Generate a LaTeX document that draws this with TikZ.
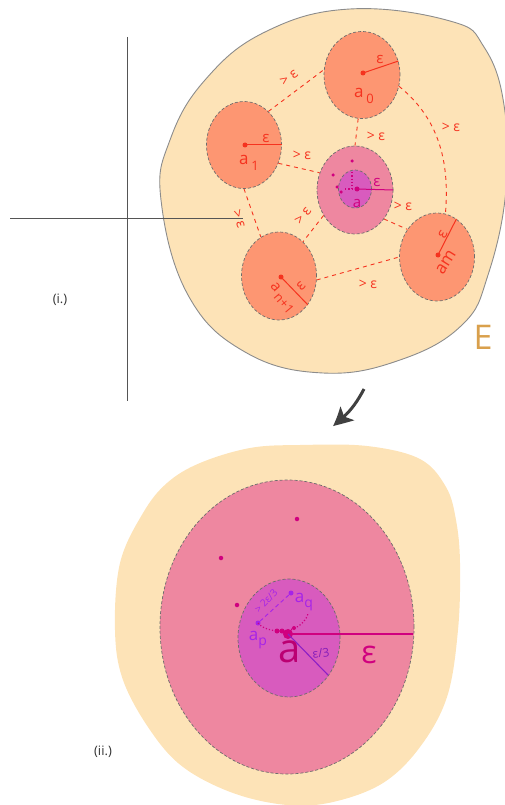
\documentclass[tikz,border=0pt]{standalone}
\usepackage{fontspec}
\setmainfont{Open Sans}
\usetikzlibrary{arrows.meta,shapes.geometric,bending}
\definecolor{cream}{HTML}{FDE3B7}
\definecolor{orangec}{HTML}{FD9672}
\definecolor{pinko}{HTML}{EE87A0}
\definecolor{magin}{HTML}{D85BBE}
\definecolor{redl}{HTML}{F5331F}
\definecolor{magl}{HTML}{D0007F}
\definecolor{purp}{HTML}{A524E8}
\definecolor{goldE}{HTML}{D9A04C}
\definecolor{axisg}{HTML}{555555}
\tikzset{
  disc/.style={ellipse,inner sep=0pt,draw=gray!85!black,dash pattern=on 3pt off 2pt,line width=0.7pt},
  orb/.style={disc,fill=orangec},
  pinkb/.style={disc,fill=pinko},
  magb/.style={disc,fill=magin},
  conn/.style={draw=redl,dash pattern=on 4pt off 4pt,line width=0.9pt},
  gt/.style={text=redl,font=\fontsize{14}{14}\selectfont,inner sep=1pt},
  lab/.style={text=redl,font=\fontsize{17}{17}\selectfont,inner sep=0pt},
  eps/.style={text=redl,font=\fontsize{15}{15}\selectfont,inner sep=0pt},
  pt/.style={circle,fill=#1,inner sep=0pt,minimum size=5pt},
  mdot/.style={circle,fill=magl,inner sep=0pt,minimum size=3.5pt},
}
\newcommand{\subsc}[1]{\,\raisebox{-0.7ex}{\fontsize{13}{13}\selectfont #1}}
\begin{document}
\begin{tikzpicture}[x=1pt,y=-1pt]
\useasboundingbox (0,0) rectangle (504,805);
% ---------- top blob E
\draw[fill=cream,draw=gray!90,line width=0.9pt] plot[smooth cycle,tension=0.7] coordinates
 {(161,200) (170,140) (205,80) (265,32) (350,9) (450,21) (484,47) (504,105) (506,190) (488,275) (462,325) (400,360) (323,373) (245,352) (188,295)};
% axes
\coordinate (vt) at (127,37); \coordinate (vb) at (127,401);
\coordinate (hl) at (10,218); \coordinate (hr) at (243,218);
\draw[axisg,line width=1pt] (vt) -- (vb);
\draw[axisg,line width=0.8pt] (hl) -- (hr);
% ---------- discs
\node[orb,minimum width=76pt,minimum height=87pt] (c0) at (362,75) {};
\node[orb,minimum width=75pt,minimum height=87pt] (c1) at (244,145) {};
\node[pinkb,minimum width=76pt,minimum height=88pt] (cc) at (355,190) {};
\node[magb,minimum width=33pt,minimum height=38pt] (ci) at (355,189) {};
\node[orb,minimum width=75pt,minimum height=88pt] (cm) at (437,257) {};
\node[orb,minimum width=75pt,minimum height=88pt] (cn) at (279,276) {};
% ---------- connectors
\draw[conn] (c1.54) -- (c0.172);
\draw[conn] (c0.265) -- (cc.90);
\draw[conn] (c0.343) .. controls (438,118) and (450,160) .. (cm.79);
\draw[conn] (c1.332) -- (cc.154);
\draw[conn] (c1.270) -- (cn.115);
\draw[conn] (cc.219) -- (cn.55);
\draw[conn] (cc.315) -- (cm.137);
\draw[conn] (cn.354) -- (cm.180);
\node[gt,rotate=37] (g1) at (289,78) {> ε};
\node[gt] (g2) at (376,136) {> ε};
\node[gt] (g3) at (451,127) {> ε};
\node[gt] (g4) at (302,155) {> ε};
\node[gt,rotate=-72] (g5) at (239,219) {> ε};
\node[gt,rotate=52] (g6) at (303,216) {> ε};
\node[gt] (g7) at (403,206) {> ε};
\node[gt] (g8) at (368,284) {> ε};
% ---------- centres and radii
\node[pt=redl] (p0) at (363,73) {};
\draw[redl,line width=1pt] (p0.center) -- (c0.21);
\node[eps] at (380,59) {ε};
\node[lab] at (364,96) {a\subsc{0}};
\node[pt=redl] (p1) at (245,145) {};
\draw[redl,line width=1pt] (p1.center) -- (c1.0);
\node[eps] at (266,138) {ε};
\node[lab] at (249,163) {a\subsc{1}};
\node[pt=redl] (pm) at (438,255) {};
\draw[redl,line width=1pt] (pm.center) -- (cm.63);
\node[eps,rotate=63] at (443,235) {ε};
\node[lab,rotate=58] at (446,262) {am};
\node[pt=redl] (pn) at (281,277) {};
\draw[redl,line width=1pt] (pn.center) -- (cn.315);
\node[eps,rotate=45] at (301,286) {ε};
\node[lab,rotate=-50,font=\fontsize{15}{15}\selectfont] at (282,298) {a\,\raisebox{-0.6ex}{\fontsize{13}{13}\selectfont n+1}};
% central point cluster
\node[pt=magl] (pc) at (357,189) {};
\draw[magl,line width=1pt] (pc.center) -- (cc.0);
\node[eps,text=magl] at (377,182) {ε};
\node[lab,text=magl,font=\fontsize{15}{15}\selectfont] at (357,203) {a};
\coordinate (dv1) at (352,172); \coordinate (dh1) at (345,189);
\draw[magl,line width=1.3pt,dotted] (dv1) -- (352,189);
\draw[magl,line width=1.3pt,dotted] (dh1) -- (pc.center);
\node[mdot] at (352,161) {};
\node[mdot] at (333,175) {};
\node[mdot] at (337,187) {};
\node[mdot] at (341,192) {};
% E and labels
\node[text=goldE,font=\fontsize{34}{34}\selectfont] at (483,337) {E};
\node[font=\fontsize{13}{13}\selectfont,text=black!80] (li) at (60,300) {(i.)};
% ---------- arrow
\coordinate (arS) at (364,389);
\coordinate (arE) at (333,426);
\draw[line width=3pt,black!75,-{Stealth[length=20pt,width=19pt,inset=5pt,bend]}] (arS) to[bend left=12] (arE);
% ---------- bottom blob
\fill[cream] plot[smooth cycle,tension=0.6] coordinates
 {(250,448) (300,445) (367,446) (420,459) (446,487) (456,520) (460,563) (458,630) (447,697) (420,747) (383,783) (333,802) (287,805) (233,793) (183,767) (150,730) (123,680) (115,630) (120,563) (143,513) (167,483) (200,463)};
\node[pinkb,minimum width=254pt,minimum height=294pt] (bp) at (287,627) {};
\node[magb,minimum width=102pt,minimum height=118pt] (bi) at (289,638) {};
\node[mdot,minimum size=4.5pt] at (297,519) {};
\node[mdot,minimum size=4.5pt] at (221,558) {};
\node[mdot,minimum size=4.5pt] at (237,605) {};
\node[pt=magl,minimum size=10pt] (ba) at (288,634) {};
\coordinate (be) at (413,634);
\coordinate (be3) at (328,675);
\draw[magl,line width=1.1pt] (ba.center) -- (be);
\draw[purp!85!black,line width=1.1pt] (ba.center) -- (be3);
\node[pt=purp] (ap) at (258,623) {};
\node[pt=purp] (aq) at (291,593) {};
\draw[magl,line width=1.2pt,dotted] (ap.center) .. controls (265,633) and (300,637) .. (308,614);
\node[mdot,minimum size=5pt] at (277,631) {};
\node[mdot,minimum size=5pt] at (282,631) {};
\node[mdot,minimum size=4pt] at (294,628) {};
\draw[purp,dash pattern=on 4pt off 3pt,line width=0.9pt] (ap) -- (aq);
\node[text=purp,rotate=47,font=\fontsize{10}{10}\selectfont,inner sep=0pt] at (266,601) {> 2ε/3};
\node[text=purp,font=\fontsize{17}{17}\selectfont,inner sep=0pt] at (258,640) {a\raisebox{-0.6ex}{\fontsize{14}{14}\selectfont p}};
\node[text=purp,font=\fontsize{17}{17}\selectfont,inner sep=0pt] at (304,602) {a\raisebox{-0.6ex}{\fontsize{14}{14}\selectfont q}};
\node[text=purp!80!black,rotate=8,font=\fontsize{12}{12}\selectfont,inner sep=0pt] at (321,653) {ε/3};
\node[text=magl!90!black,font=\fontsize{40}{40}\selectfont,inner sep=0pt] at (290,652) {a};
\node[text=magl,font=\fontsize{32}{32}\selectfont,inner sep=0pt] at (369,655) {ε};
\node[font=\fontsize{13}{13}\selectfont,text=black!80] (lii) at (103,752) {(ii.)};
\end{tikzpicture}
\end{document}
